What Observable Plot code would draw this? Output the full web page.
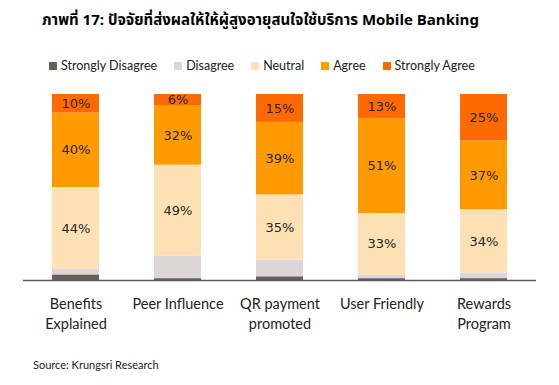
<!DOCTYPE html>
<html>
<head>
<meta charset="utf-8">
<script src="https://cdn.jsdelivr.net/npm/d3@7"></script>
<script src="https://cdn.jsdelivr.net/npm/@observablehq/plot@0.6"></script>
<style>
  html, body { margin: 0; padding: 0; background: #fff; }
  #wrap { width: 559px; height: 385px; position: relative; overflow: hidden; }
  #title { position: absolute; top: 9px; left: 0; width: 521px; text-align: center;
           font-family: "Noto Sans Thai", "Noto Sans", "DejaVu Sans", sans-serif; font-weight: bold; font-size: 15px; color: #000; white-space: nowrap; }
  #legend { position: absolute; top: 58px; left: 49px; display: flex; align-items: center;
            font-family: Lato, "Open Sans", sans-serif; font-size: 12.5px; color: #222; white-space: nowrap; }
  .item { display: flex; align-items: center; margin-right: 17px; }
  .sw { width: 8px; height: 8px; margin-right: 4px; display: inline-block; }
  #plot { position: absolute; top: 80px; left: 0; }
  #source { position: absolute; top: 358px; left: 33px; font-family: Lato, "Open Sans", sans-serif; font-size: 11px; color: #222; }
</style>
</head>
<body>
<div id="wrap">
  <div id="title">ภาพที่ 17: ปัจจัยที่ส่งผลให้ให้ผู้สูงอายุสนใจใช้บริการ Mobile Banking</div>
  <div id="legend"></div>
  <div id="plot"></div>
  <div id="source">Source: Krungsri Research</div>
</div>
<script>
const categories = ["Benefits Explained", "Peer Influence", "QR payment promoted", "User Friendly", "Rewards Program"];
const categoryLabels = ["Benefits\nExplained", "Peer Influence", "QR payment\npromoted", "User Friendly", "Rewards\nProgram"];
const seriesNames = ["Strongly Disagree", "Disagree", "Neutral", "Agree", "Strongly Agree"];
const seriesColors = ["#6b5f5e", "#dcd6d6", "#fde1b5", "#ff9a03", "#ff6a00"];
const labeledSeries = ["Neutral", "Agree", "Strongly Agree"];

const stronglyDisagree = [3, 1, 2, 1, 1];
const disagree = [3, 12, 9, 2, 3];
const neutral = [44, 49, 35, 33, 34];
const agree = [40, 32, 39, 51, 37];
const stronglyAgree = [10, 6, 15, 13, 25];

const seriesValues = [stronglyDisagree, disagree, neutral, agree, stronglyAgree];

const rows = [];
seriesNames.forEach((s, si) => {
  categories.forEach((c, ci) => {
    rows.push({category: c, series: s, value: seriesValues[si][ci]});
  });
});

// legend
const legend = document.getElementById("legend");
seriesNames.forEach((s, i) => {
  const it = document.createElement("div");
  it.className = "item";
  const sw = document.createElement("span");
  sw.className = "sw";
  sw.style.background = seriesColors[i];
  it.appendChild(sw);
  it.appendChild(document.createTextNode(s));
  legend.appendChild(it);
});

const labelOf = Object.fromEntries(categories.map((c, i) => [c, categoryLabels[i]]));

const chart = Plot.plot({
  width: 559,
  height: 270,
  marginTop: 14,
  marginBottom: 70,
  marginLeft: 23,
  marginRight: 23,
  x: {domain: categories, paddingInner: 0.54, paddingOuter: 0.27, axis: null},
  y: {domain: [0, 100], axis: null},
  color: {domain: seriesNames, range: seriesColors},
  marks: [
    Plot.barY(rows, {x: "category", y: "value", z: "series", fill: "series", order: seriesNames}),
    Plot.text(rows, Plot.stackY({
      x: "category", y: "value", z: "series", order: seriesNames,
      text: d => labeledSeries.includes(d.series) ? d.value + "%" : "",
      fontFamily: "DejaVu Sans", fontSize: 13, fill: "#262626"
    })),
    Plot.ruleY([0], {stroke: "#595959", strokeWidth: 1.5}),
    Plot.text(categories, {
      x: d => d, frameAnchor: "bottom", lineAnchor: "top", dy: 14,
      text: d => labelOf[d], lineHeight: 1.38,
      fontFamily: "Lato", fontSize: 14.5, fill: "#222"
    })
  ]
});
document.getElementById("plot").appendChild(chart);
</script>
</body>
</html>
